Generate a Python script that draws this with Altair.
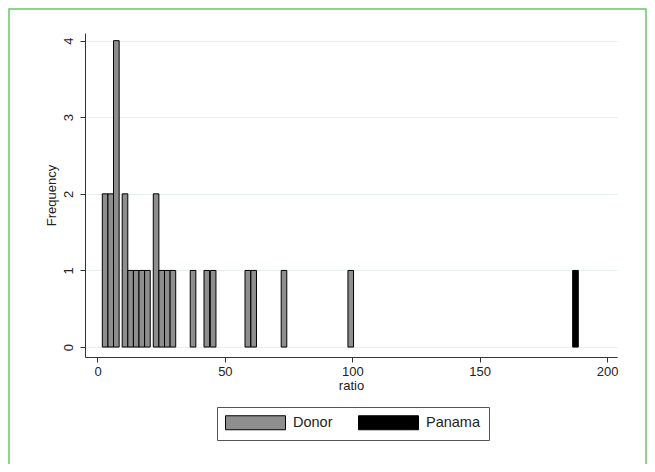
import altair as alt
import pandas as pd

# Histogram bars (left edge of each bin, bin width, frequency)
bin_width = 2.2
donor_left = [1.9, 4.1, 6.3, 9.7, 11.9, 14.1, 16.3, 18.5, 21.9, 24.1, 26.3, 28.5,
              36.4, 41.8, 44.3, 57.9, 60.2, 72.1, 98.3]
donor_count = [2, 2, 4, 2, 1, 1, 1, 1, 2, 1, 1, 1, 1, 1, 1, 1, 1, 1, 1]
panama_left = [186.5]
panama_count = [1]

groups = ["Donor", "Panama"]
group_colors = ["#8e8e8e", "#000000"]
x_ticks = [0, 50, 100, 150, 200]
y_ticks = [0, 1, 2, 3, 4]

rows = []
for l, c in zip(donor_left, donor_count):
    rows.append({"group": "Donor", "left": l, "right": l + bin_width, "count": c, "base": 0})
for l, c in zip(panama_left, panama_count):
    rows.append({"group": "Panama", "left": l, "right": l + bin_width, "count": c, "base": 0})
df = pd.DataFrame(rows)

FONT = "Liberation Sans"
W, H = 532, 324
PL, PT, PR, PB = 77, 25, 30, 107

x_scale = alt.Scale(domain=[-4.9, 203.9], nice=False, zero=False)
y_scale = alt.Scale(domain=[-0.13, 4.1], nice=False, zero=False)

# wide legend swatch: 60 x 14 px drawn from the left edge of a 14 px slot
swatch = "M-1,-1H7.571V1H-1Z"

bars = alt.Chart(df).mark_rect(stroke="black", strokeWidth=1).encode(
    x=alt.X("left:Q", scale=x_scale,
            axis=alt.Axis(values=x_ticks, title="ratio", grid=False,
                          labelFontSize=13, titleFontSize=13, labelPadding=3,
                          titlePadding=1, tickSize=5)),
    x2="right:Q",
    y=alt.Y("count:Q", scale=y_scale,
            axis=alt.Axis(values=y_ticks, title="Frequency", grid=True,
                          gridColor="#e6eef0", gridWidth=1,
                          labelAngle=270, labelAlign="center", labelBaseline="bottom",
                          labelFontSize=13, titleFontSize=13, labelPadding=5,
                          titlePadding=4, tickSize=5)),
    y2="base:Q",
    color=alt.Color("group:N",
                    scale=alt.Scale(domain=groups, range=group_colors),
                    legend=alt.Legend(orient="none", legendX=132, legendY=374,
                                      direction="horizontal", columns=2, title=None,
                                      symbolType=swatch,
                                      symbolSize=196, symbolStrokeColor="black",
                                      symbolStrokeWidth=1, symbolOpacity=1,
                                      labelFontSize=14.5, labelOffset=53,
                                      columnPadding=23, padding=8,
                                      strokeColor="#555555", fillColor="white")),
)

frame = alt.Chart(pd.DataFrame({"a": [0]})).mark_rect(
    fill=None, stroke="#6cc46c", strokeWidth=1.5
).encode(
    x=alt.value(-PL + 1), x2=alt.value(W + PR - 1),
    y=alt.value(-PT + 1), y2=alt.value(H + PB + 20),
)

chart = alt.layer(frame, bars).properties(
    width=W, height=H,
    autosize=alt.AutoSizeParams(type="none"),
    padding={"left": PL, "top": PT, "right": PR, "bottom": PB},
    background="white",
).configure_view(stroke=None).configure_axis(
    labelFont=FONT, titleFont=FONT, labelColor="#222222", titleColor="#222222",
    domainColor="#333333", tickColor="#333333", titleFontWeight="normal",
).configure_legend(labelFont=FONT, labelColor="#222222")

chart.save("out.html", embed_options={"renderer": "svg", "actions": False})
